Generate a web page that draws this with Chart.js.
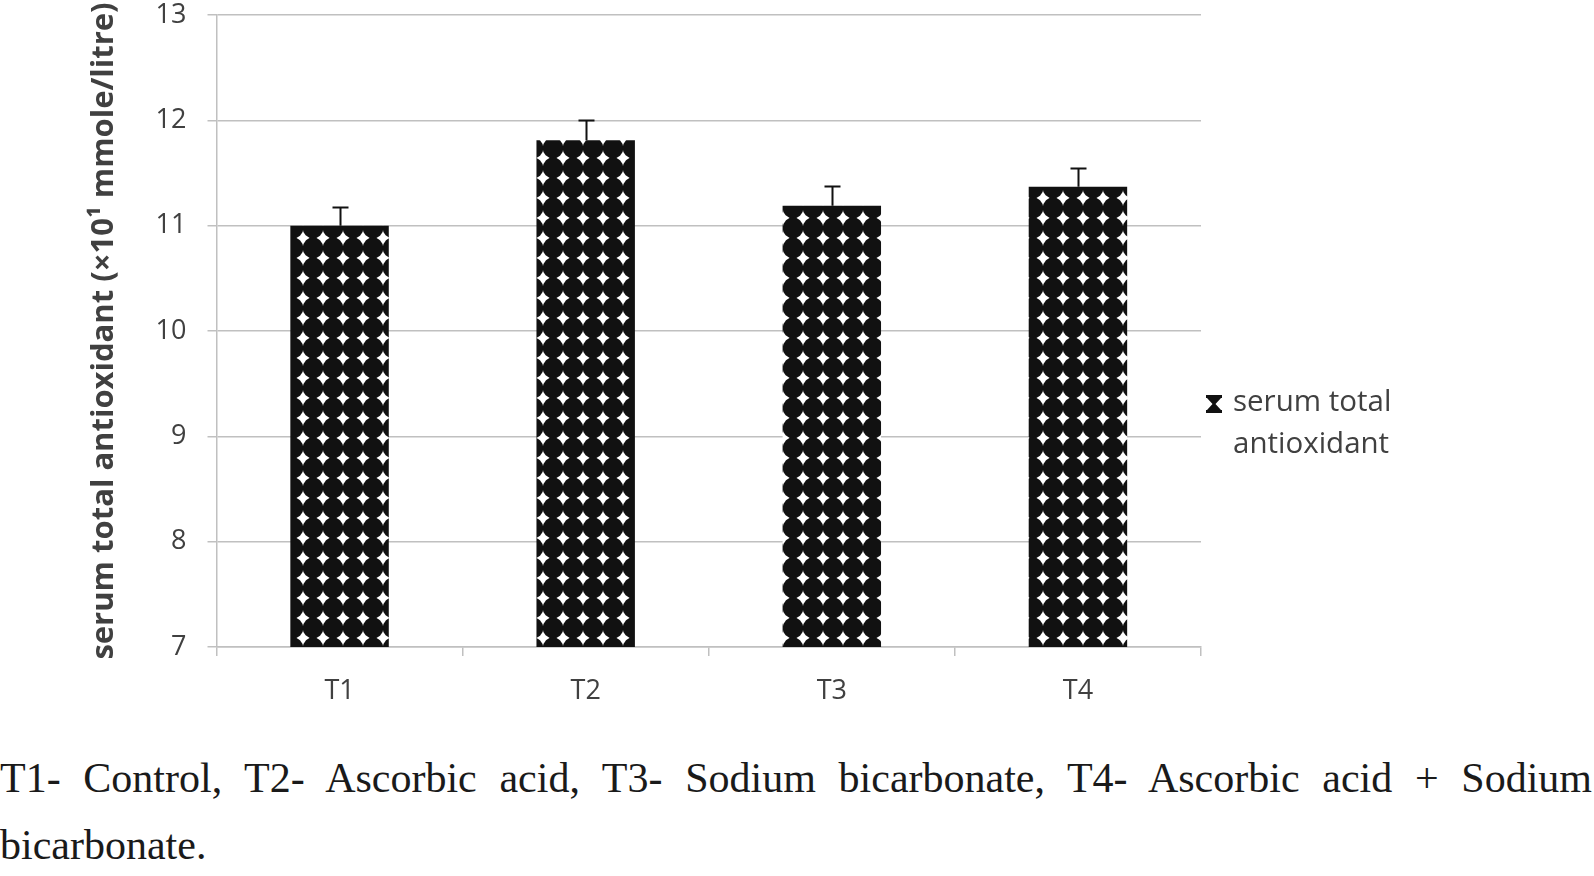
<!DOCTYPE html>
<html>
<head>
<meta charset="utf-8">
<script src="https://cdn.jsdelivr.net/npm/chart.js@4.4.1/dist/chart.umd.min.js"></script>
<style>
  html, body { margin: 0; padding: 0; background: #ffffff; }
  body { width: 1594px; height: 876px; position: relative; overflow: hidden; }
  #wrap { position: absolute; left: 0; top: 0; width: 1594px; height: 720px; }
  #caption {
    position: absolute; left: 0; top: 745px; width: 1592px;
    font-family: "Liberation Serif", "Times New Roman", serif;
    font-size: 42px; line-height: 67px; color: #1a1a1a;
    text-align: justify; text-align-last: left;
  }
</style>
</head>
<body>
<div id="wrap"><canvas id="c" width="1594" height="720"></canvas></div>
<div id="caption">T1- Control, T2- Ascorbic acid, T3- Sodium bicarbonate, T4- Ascorbic acid + Sodium bicarbonate.</div>
<script>
// ---- data ----
const categories = ["T1", "T2", "T3", "T4"];
const seriesName = "serum total antioxidant";
const values = [11.00, 11.81, 11.19, 11.37];
const errors = [0.18, 0.19, 0.19, 0.18];
const yTicks = [7, 8, 9, 10, 11, 12, 13];
const yTitle = "serum total antioxidant (×10¹ mmole/litre)";

const textColor = "#404040";
const gridColor = "#c0c0c0";
const FONT = "'Open Sans', Lato, sans-serif";

// pattern: black circles on white, leaving white four-point stars
function makePattern(ctx) {
  const t = document.createElement("canvas");
  t.width = 20; t.height = 20;
  const g = t.getContext("2d");
  g.fillStyle = "#ffffff";
  g.fillRect(0, 0, 20, 20);
  g.fillStyle = "#111111";
  const cx = 13, cy = 8;
  for (let dx = -20; dx <= 20; dx += 20) {
    for (let dy = -20; dy <= 20; dy += 20) {
      g.beginPath();
      g.arc(cx + dx, cy + dy, 10.4, 0, Math.PI * 2);
      g.fill();
    }
  }
  return ctx.createPattern(t, "repeat");
}

const errorBarPlugin = {
  id: "errorBars",
  afterDatasetsDraw(chart) {
    const ctx = chart.ctx;
    const y = chart.scales.y;
    const meta = chart.getDatasetMeta(0);
    ctx.save();
    ctx.strokeStyle = "#111111";
    ctx.lineWidth = 2;
    meta.data.forEach((bar, i) => {
      const x = Math.round(bar.x) + 0.5;
      const y0 = y.getPixelForValue(values[i]);
      const y1 = Math.round(y.getPixelForValue(values[i] + errors[i])) + 0.5;
      ctx.beginPath();
      ctx.moveTo(x, y0);
      ctx.lineTo(x, y1);
      ctx.moveTo(x - 8, y1);
      ctx.lineTo(x + 8, y1);
      ctx.stroke();
    });
    ctx.restore();
  }
};

const legendPlugin = {
  id: "customLegend",
  afterDraw(chart) {
    const ctx = chart.ctx;
    ctx.save();
    const ix = 1214, iy = 404;
    ctx.fillStyle = "#111111";
    ctx.fillRect(ix - 8, iy - 9, 16, 3);
    ctx.fillRect(ix - 8, iy + 6, 16, 3);
    ctx.beginPath();
    ctx.moveTo(ix - 7, iy - 6);
    ctx.lineTo(ix + 7, iy - 6);
    ctx.lineTo(ix + 1.5, iy);
    ctx.lineTo(ix + 7, iy + 6);
    ctx.lineTo(ix - 7, iy + 6);
    ctx.lineTo(ix - 1.5, iy);
    ctx.closePath();
    ctx.fill();
    ctx.fillStyle = textColor;
    ctx.font = "29.5px " + FONT;
    ctx.textBaseline = "middle";
    ctx.textAlign = "left";
    ctx.fillText("serum total", 1233, 403);
    ctx.fillText("antioxidant", 1233, 445);
    ctx.restore();
  }
};

const ctx = document.getElementById("c").getContext("2d");
const pattern = makePattern(ctx);

new Chart(ctx, {
  type: "bar",
  data: {
    labels: categories,
    datasets: [{
      label: seriesName,
      data: values,
      backgroundColor: pattern,
      borderWidth: 0,
      barPercentage: 0.4,
      categoryPercentage: 1.0
    }]
  },
  options: {
    responsive: false,
    animation: false,
    layout: { padding: { left: 0, top: 15, right: 393, bottom: 0 } },
    plugins: { legend: { display: false }, tooltip: { enabled: false } },
    scales: {
      x: {
        afterFit(s) { s.height = 73; s.paddingLeft = 0; s.paddingRight = 0; },
        grid: {
          display: true, drawOnChartArea: false, drawTicks: true,
          tickLength: 9, color: gridColor, lineWidth: 1.5, offset: true
        },
        border: { display: true, color: gridColor, width: 1.5 },
        ticks: { color: textColor, font: { family: FONT, size: 27 }, padding: 19 }
      },
      y: {
        min: 7, max: 13,
        afterFit(s) { s.width = 216.5; s.paddingTop = 0; s.paddingBottom = 0; },
        afterBuildTicks(s) { s.ticks = yTicks.map(v => ({ value: v })); },
        grid: { color: gridColor, lineWidth: 1.5, tickLength: 9, drawTicks: true },
        border: { display: true, color: gridColor, width: 1.5 },
        ticks: { color: textColor, font: { family: FONT, size: 27 }, padding: 21 },
        title: {
          display: true, text: yTitle, color: textColor,
          font: { family: FONT, size: 31, weight: "bold" },
          padding: { top: 86, bottom: 0 }
        }
      }
    }
  },
  plugins: [errorBarPlugin, legendPlugin]
});
</script>
</body>
</html>
